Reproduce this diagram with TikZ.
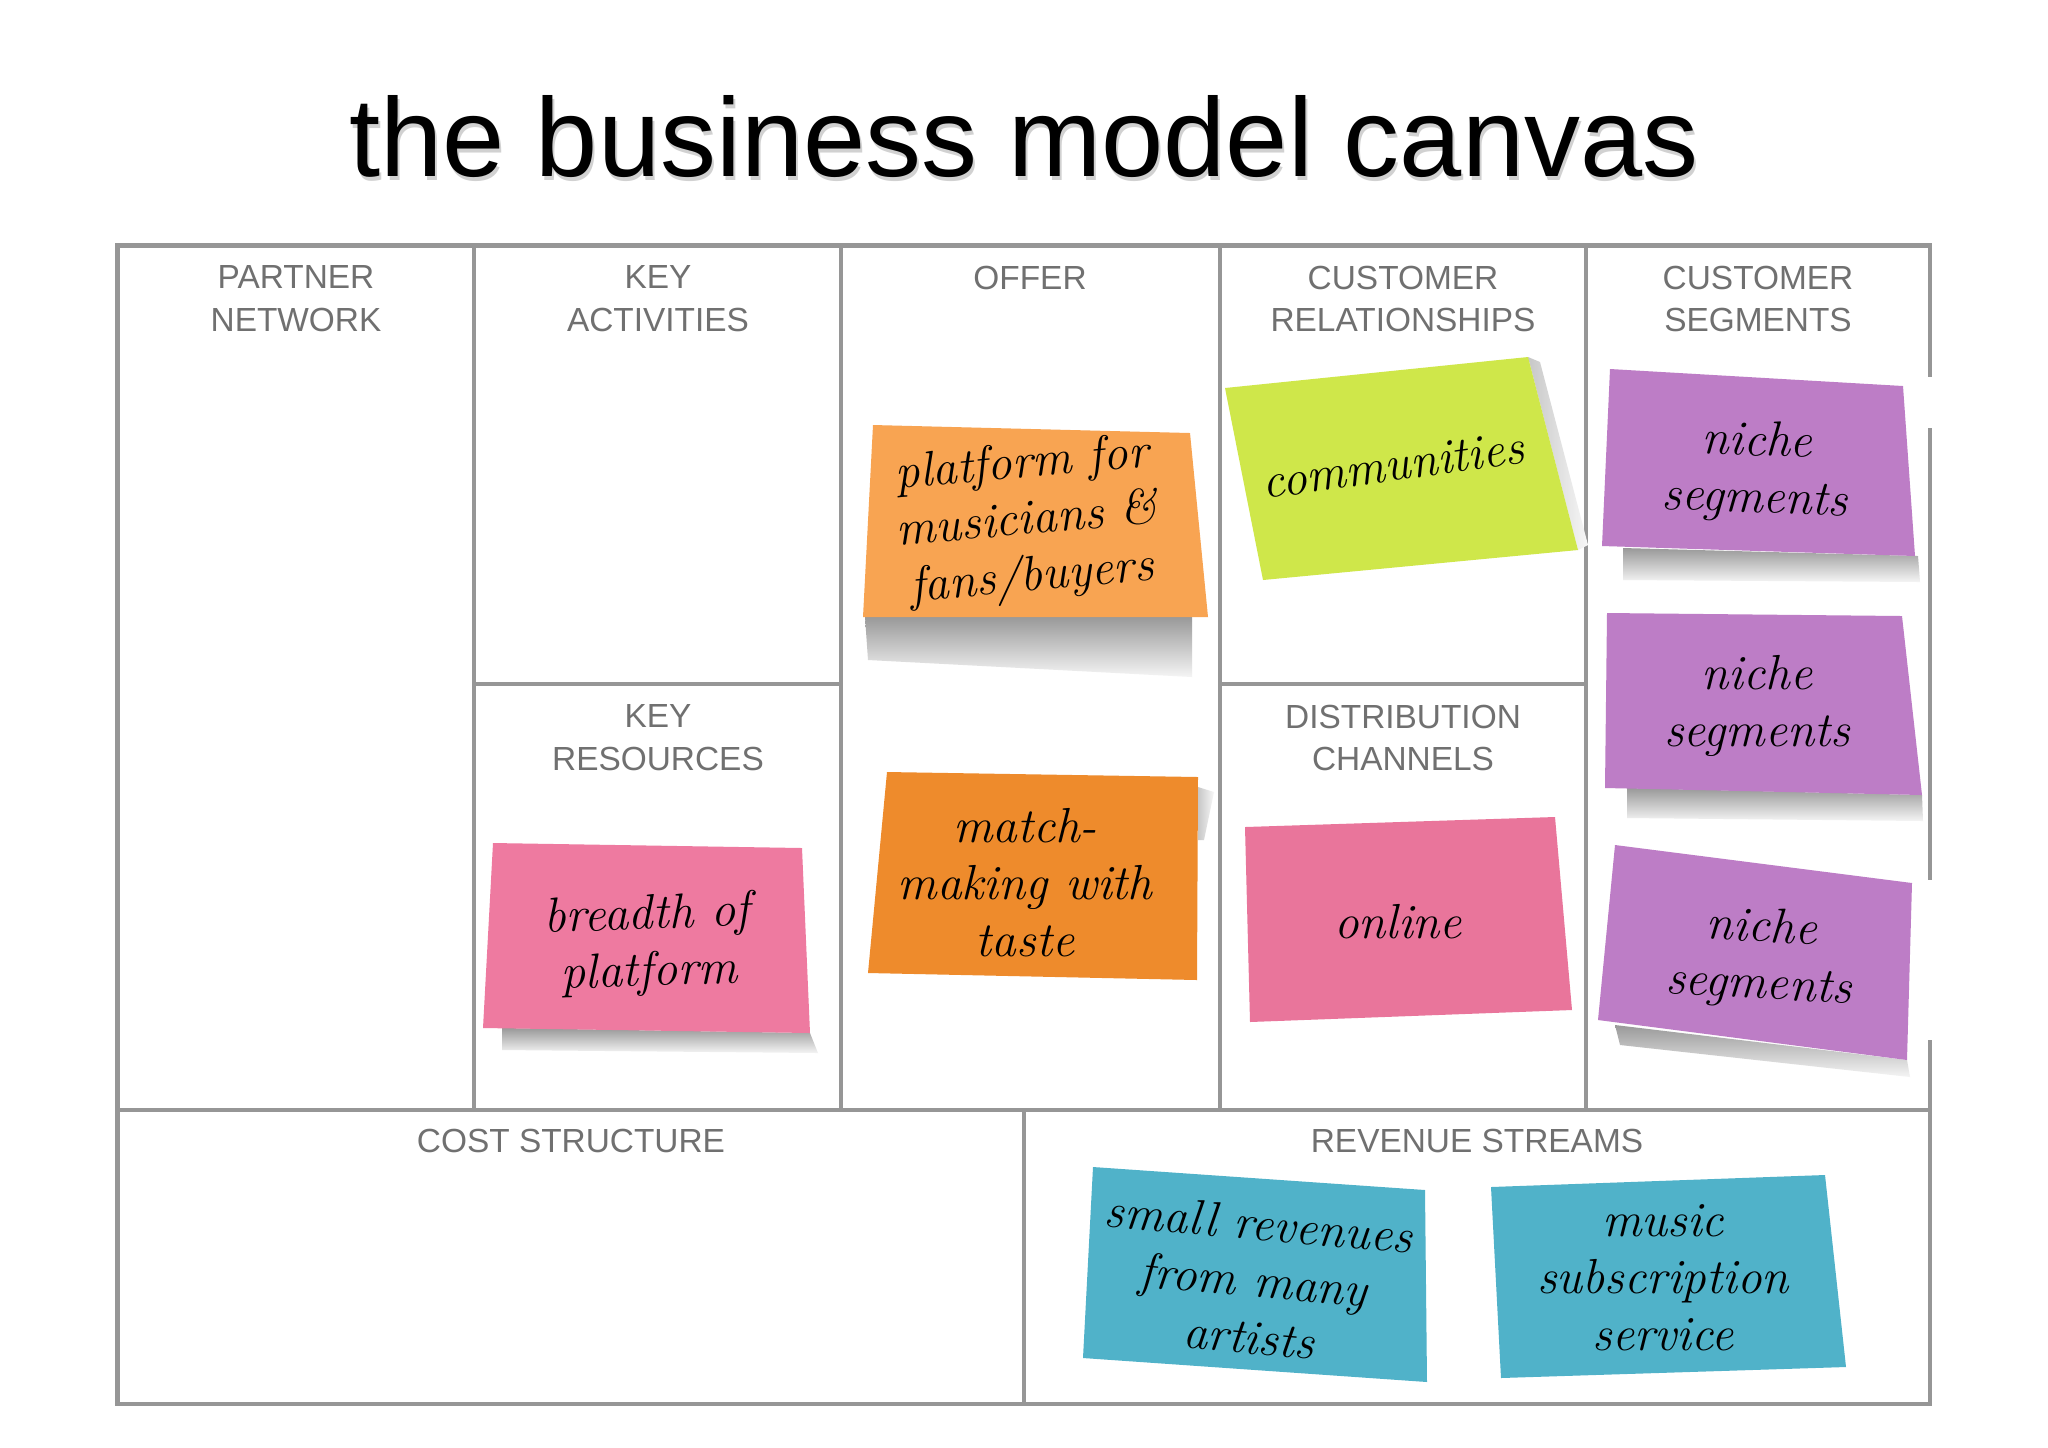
\documentclass[tikz,border=0pt]{standalone}
\usepackage{fontspec}
\setsansfont{Liberation Sans}
\definecolor{gridGray}{RGB}{150,150,150}
\definecolor{labelGray}{RGB}{112,112,112}
\definecolor{sOrange}{RGB}{248,164,82}
\definecolor{sDarkOrange}{RGB}{238,139,44}
\definecolor{sLime}{RGB}{207,231,74}
\definecolor{sPink}{RGB}{238,122,160}
\definecolor{sRose}{RGB}{233,117,155}
\definecolor{sPurple}{RGB}{189,125,198}
\definecolor{sCyan}{RGB}{80,178,201}

\begin{document}
\begin{tikzpicture}[
  x=0.01cm,
  y=-0.01cm,
  celllabel/.style={
    font=\sffamily\fontsize{9.5}{12.2}\selectfont,
    text=labelGray,
    align=center,
    anchor=north,
    inner sep=0pt
  },
  hand/.style={
    font=\itshape\fontsize{14}{16.2}\selectfont,
    align=center,
    inner sep=0pt
  },
  gridline/.style={draw=gridGray, line width=1.15pt},
  stickyshadow/.style={top color=black!40, bottom color=black!4, draw=none},
  sideshadow/.style={left color=black!22, right color=black!3, draw=none}
]
  \useasboundingbox[fill=white] (0,0) rectangle (2048,1447);

  % title
  \node[font=\sffamily\fontsize{31.8}{36}\selectfont, text=black!18, anchor=base] (titleshadow) at (1026,180) {the business model canvas};
  \node[font=\sffamily\fontsize{31.8}{36}\selectfont, anchor=base] (title) at (1024,176) {the business model canvas};

  % canvas grid
  \draw[gridline] (117.5,245.5) rectangle (1930.4,1404);
  \draw[gridline] (474,245.5) -- (474,1110);
  \draw[gridline] (841,245.5) -- (841,1110);
  \draw[gridline] (1220,245.5) -- (1220,1110);
  \draw[gridline] (1585.6,245.5) -- (1585.6,1110);
  \draw[gridline] (117.5,1110) -- (1930.4,1110);
  \draw[gridline] (474,684) -- (841,684);
  \draw[gridline] (1220,684) -- (1585.6,684);
  \draw[gridline] (1024,1110) -- (1024,1404);
  \fill[white] (1922,377) rectangle (1940,428);
  \fill[white] (1922,880) rectangle (1940,1040);

  \node[celllabel] (partner) at (296,265) {PARTNER\\NETWORK};
  \node[celllabel] (activities) at (658,265) {KEY\\ACTIVITIES};
  \node[celllabel] (offer) at (1030,265) {OFFER};
  \node[celllabel] (relations) at (1403,265) {CUSTOMER\\RELATIONSHIPS};
  \node[celllabel] (segments) at (1758,265) {CUSTOMER\\SEGMENTS};
  \node[celllabel] (resources) at (658,704) {KEY\\RESOURCES};
  \node[celllabel] (channels) at (1403,704) {DISTRIBUTION\\CHANNELS};
  \node[celllabel] (cost) at (571,1128) {COST STRUCTURE};
  \node[celllabel] (revenue) at (1477,1128) {REVENUE STREAMS};

  % sticky notes
  \shade[stickyshadow] (865,617) -- (1192,617) -- (1192,677) -- (868,660) -- cycle;
  \fill[sOrange] (873,425) -- (1190,433) -- (1208,617) -- (863,617) -- cycle;
  \shade[sideshadow] (1528,357) -- (1540,362) -- (1588,545) -- (1578,550) -- cycle;
  \fill[sLime] (1225,388) -- (1528,357) -- (1578,550) -- (1263,580) -- cycle;
  \shade[stickyshadow] (502,1028) -- (810,1033) -- (818,1053) -- (502,1050) -- cycle;
  \fill[sPink] (493,843) -- (802,848) -- (810,1033) -- (483,1028) -- cycle;
  \shade[sideshadow] (1198,787) -- (1214,792) -- (1204,840) -- (1198,840) -- cycle;
  \fill[sDarkOrange] (887,772) -- (1198,777) -- (1197,980) -- (868,973) -- cycle;
  \fill[sRose] (1245,827) -- (1555,817) -- (1572,1010) -- (1250,1022) -- cycle;
  \shade[stickyshadow] (1623,548) -- (1918,556) -- (1920,582) -- (1623,580) -- cycle;
  \fill[sPurple] (1610,369) -- (1903,386) -- (1915,556) -- (1602,546) -- cycle;
  \shade[stickyshadow] (1627,788) -- (1922,795) -- (1923,821) -- (1627,818) -- cycle;
  \fill[sPurple] (1607,613) -- (1902,616) -- (1922,795) -- (1605,788) -- cycle;
  \shade[stickyshadow] (1615,1025) -- (1907,1060) -- (1910,1077) -- (1620,1045) -- cycle;
  \fill[sPurple] (1615,845) -- (1912,883) -- (1907,1060) -- (1598,1020) -- cycle;
  \fill[sCyan] (1093,1167) -- (1425,1190) -- (1427,1382) -- (1083,1358) -- cycle;
  \fill[sCyan] (1491,1187) -- (1825,1175) -- (1846,1367) -- (1501,1378) -- cycle;

  \node[hand, rotate=5] (platform) at (1027,523) {platform for\\musicians \&\\fans/buyers};
  \node[hand, rotate=8] (communities) at (1393,465) {communities};
  \node[hand, rotate=2] (breadth) at (648,945) {breadth of\\platform};
  \node[hand] (matchmaking) at (1025,883) {match-\\making with\\taste};
  \node[hand] (online) at (1398,922) {online};
  \node[hand, rotate=-2] (nicheA) at (1756,472) {niche\\segments};
  \node[hand] (nicheB) at (1757,706) {niche\\segments};
  \node[hand, rotate=-3] (nicheC) at (1760,958) {niche\\segments};
  \node[hand, rotate=-5] (smallrev) at (1254,1280) {small revenues\\from many\\artists};
  \node[hand] (subscription) at (1663,1278) {music\\subscription\\service};
\end{tikzpicture}
\end{document}
